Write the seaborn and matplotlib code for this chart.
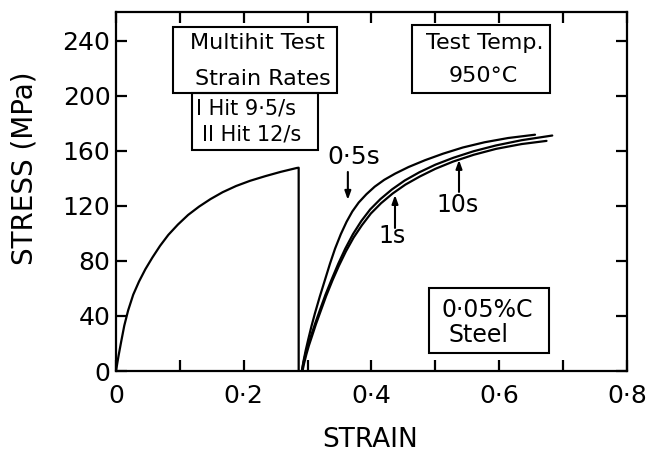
import matplotlib
matplotlib.use("Agg")
import matplotlib.pyplot as plt
from matplotlib.patches import Rectangle
import pandas as pd
import seaborn as sns

# First hit: loading curve up to the interruption, then unloading to zero
first_hit_strain = [0, 0.004, 0.008, 0.013, 0.019, 0.027, 0.036, 0.046, 0.057, 0.069,
                    0.082, 0.097, 0.113, 0.130, 0.148, 0.167, 0.188, 0.210, 0.234,
                    0.258, 0.283, 0.286, 0.286]
first_hit_stress = [0, 11, 21, 33, 44, 55.5, 65, 74, 82.5, 91, 99, 106.5, 113.5,
                    119.5, 125, 130, 134.5, 138.3, 141.7, 144.8, 147.6, 147.8, 0]

# Second hit after different interhit delays
hold_05s_strain = [0.291, 0.2935, 0.297, 0.301, 0.306, 0.3115, 0.319, 0.327, 0.335,
                   0.343, 0.352, 0.361, 0.370, 0.380, 0.392, 0.405, 0.420, 0.437,
                   0.458, 0.484, 0.512, 0.543, 0.577, 0.614, 0.656]
hold_05s_stress = [0, 7, 15, 23, 32.5, 42, 54, 66, 78, 89, 99.5, 108.5, 116, 122.5,
                   128.5, 134, 139, 143.5, 148.3, 153.3, 158, 162.5, 166.3, 169.4,
                   171.8]

hold_1s_strain = [0.291, 0.2935, 0.297, 0.301, 0.306, 0.312, 0.319, 0.328, 0.338,
                  0.348, 0.359, 0.371, 0.384, 0.398, 0.414, 0.432, 0.452, 0.475,
                  0.50, 0.528, 0.56, 0.595, 0.635, 0.683]
hold_1s_stress = [0, 6, 13, 19.5, 26.5, 34.8, 44, 55.5, 67, 78, 89, 99.5, 109,
                  117.5, 125, 132, 138.5, 144.5, 150, 155, 159.8, 164, 167.8, 171.2]

hold_10s_strain = [0.292, 0.2945, 0.298, 0.302, 0.307, 0.313, 0.320, 0.329, 0.339,
                   0.349, 0.360, 0.372, 0.385, 0.399, 0.415, 0.433, 0.453, 0.476,
                   0.50, 0.528, 0.56, 0.595, 0.635, 0.674]
hold_10s_stress = [0, 5.5, 12, 18.5, 25.5, 34, 43, 54.5, 66, 76.5, 87, 97, 106,
                   114.5, 122, 129, 135.5, 141.5, 147, 152.3, 157.2, 161.5, 165,
                   167.3]

x_ticks = [0, 0.1, 0.2, 0.3, 0.4, 0.5, 0.6, 0.7, 0.8]
x_tick_labels = ["0", "", "0·2", "", "0·4", "", "0·6", "", "0·8"]
y_ticks = [0, 40, 80, 120, 160, 200, 240]
y_tick_labels = ["0", "40", "80", "120", "160", "200", "240"]

frames = []
for name, xs, ys in [("first", first_hit_strain, first_hit_stress),
                     ("0·5s", hold_05s_strain, hold_05s_stress),
                     ("1s", hold_1s_strain, hold_1s_stress),
                     ("10s", hold_10s_strain, hold_10s_stress)]:
    frames.append(pd.DataFrame({"strain": xs, "stress": ys, "curve": name}))
data = pd.concat(frames, ignore_index=True)

sns.set_style("white")
plt.rcParams["font.family"] = ["DejaVu Sans"]
plt.rcParams["text.color"] = "black"
plt.rcParams["axes.labelcolor"] = "black"

fig = plt.figure(figsize=(6.49, 4.55), dpi=100)
ax = fig.add_axes([0.1787, 0.1846, 0.7874, 0.789])

sns.lineplot(data=data, x="strain", y="stress", units="curve", estimator=None,
             sort=False, color="black", linewidth=1.6, ax=ax, legend=False,
             solid_joinstyle="round", solid_capstyle="round")

ax.set_xlim(0, 0.8)
ax.set_ylim(0, 261)
ax.set_xticks(x_ticks)
ax.set_xticklabels(x_tick_labels)
ax.set_yticks(y_ticks)
ax.set_yticklabels(y_tick_labels)
ax.tick_params(axis="both", direction="in", length=8, width=1.6, labelsize=18,
               top=True, right=True, bottom=True, left=True,
               colors="black", labelcolor="black")
ax.tick_params(axis="x", pad=9)
ax.tick_params(axis="y", pad=4)
for sp in ax.spines.values():
    sp.set_linewidth(1.6)
    sp.set_color("black")
    sp.set_visible(True)

ax.set_xlabel("STRAIN", fontsize=19)
ax.set_ylabel("STRESS (MPa)", fontsize=20)
ax.yaxis.set_label_coords(-0.152, 0.565)
ax.xaxis.set_label_coords(0.497, -0.155)

# Annotation boxes
boxes = [(0.1115, 0.774, 0.4325, 0.958),
         (0.1487, 0.6156, 0.395, 0.774),
         (0.5787, 0.7735, 0.849, 0.9638),
         (0.613, 0.051, 0.848, 0.2304)]
for x0, y0, x1, y1 in boxes:
    ax.add_patch(Rectangle((x0, y0), x1 - x0, y1 - y0, transform=ax.transAxes,
                           fill=False, edgecolor="black", linewidth=1.5,
                           zorder=3))


def px_text(px, py, s, size=16):
    ax.text((px - 116) / 511, (371 - py) / 359, s, transform=ax.transAxes,
            ha="center", va="center", fontsize=size, color="black")


px_text(257, 43, "Multihit Test")
px_text(263, 79, "Strain Rates")
px_text(246, 108, "I Hit 9·5/s", 15)
px_text(252, 134, "II Hit 12/s", 15)
px_text(485, 43, "Test Temp.")
px_text(483, 76, "950°C")
px_text(487, 310, "0·05%C", 17)
px_text(479, 335, "Steel", 17)

# Curve labels with arrows
arrow = dict(arrowstyle="-|>,head_length=0.5,head_width=0.18", color="black",
             linewidth=1.5, shrinkA=0, shrinkB=0)
ax.text(0.3726, 155.6, "0·5s", fontsize=18, ha="center", va="center")
ax.annotate("", xy=(0.363, 124.4), xytext=(0.363, 144.7), arrowprops=arrow)
ax.text(0.432, 98.2, "1s", fontsize=17, ha="center", va="center")
ax.annotate("", xy=(0.4368, 128), xytext=(0.4368, 104), arrowprops=arrow)
ax.text(0.5354, 120.7, "10s", fontsize=17, ha="center", va="center")
ax.annotate("", xy=(0.537, 153.5), xytext=(0.537, 130.2), arrowprops=arrow)

fig.savefig("out.png", dpi=100)
